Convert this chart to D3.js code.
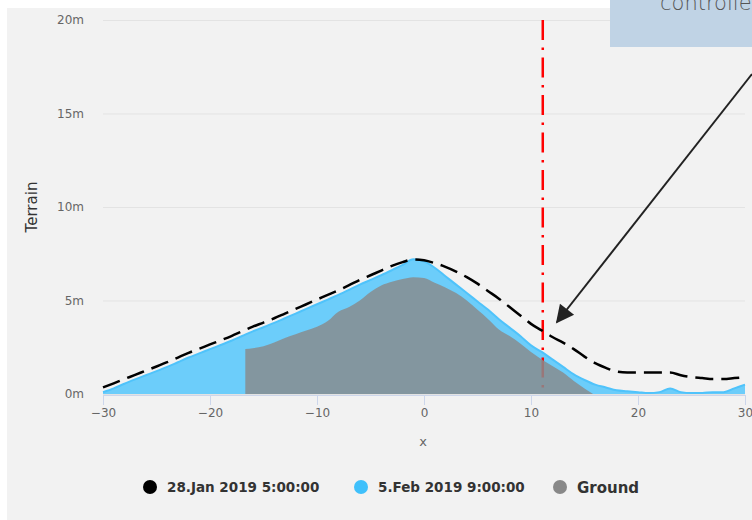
<!DOCTYPE html>
<html>
<head>
<meta charset="utf-8">
<script src="https://cdn.jsdelivr.net/npm/d3@7"></script>
<style>
  html, body { margin: 0; padding: 0; background: #fff; }
  svg { display: block; }
  text { font-family: "DejaVu Sans", sans-serif; }
</style>
</head>
<body>
<div id="chart"></div>
<script>
// terrain profiles (x in m, height in m)
var xs = [-30,-29,-28,-27,-26,-25,-24,-23,-22,-21,-20,-19,-18,-17,-16,-15,-14,-13,-12,-11,
  -10,-9,-8,-7,-6,-5,-4,-3,-2,-1,0,1,2,3,4,5,6,7,8,9,
  10,11,12,13,14,15,16,17,18,19,20,21,22,23,24,25,26,27,28,29,30];

var jan28 = [0.35,0.57,0.8,1.02,1.25,1.47,1.7,1.95,2.2,2.42,2.65,2.87,3.1,3.35,3.6,3.82,4.05,4.3,4.55,4.8,
  5.05,5.3,5.55,5.82,6.1,6.35,6.6,6.85,7.05,7.2,7.15,7.0,6.8,6.55,6.25,5.9,5.5,5.1,4.65,4.2,
  3.75,3.4,3.05,2.75,2.4,2.0,1.65,1.4,1.2,1.15,1.15,1.15,1.15,1.15,1.0,0.9,0.85,0.8,0.8,0.85,0.9];

var feb5 = [0.1,0.3,0.55,0.78,1.0,1.22,1.45,1.7,1.95,2.17,2.4,2.62,2.85,3.1,3.35,3.57,3.8,4.05,4.3,4.55,
  4.8,5.05,5.3,5.57,5.85,6.1,6.35,6.62,6.9,7.2,7.1,6.75,6.3,5.85,5.4,4.95,4.5,4.0,3.55,3.1,
  2.6,2.25,1.85,1.45,1.05,0.75,0.5,0.35,0.2,0.15,0.1,0.05,0.1,0.3,0.1,0.05,0.05,0.1,0.1,0.3,0.5];

var groundX = [-16.7,-16,-15,-14,-13,-12,-11,-10,-9,-8,-7,-6,-5,-4,-3,-2,-1,0,1,2,3,4,5,6,7,8,9,10,11,12,13,14,15,15.8];
var groundY = [2.4,2.45,2.55,2.75,3.0,3.2,3.4,3.6,3.9,4.4,4.65,5.0,5.45,5.8,6.0,6.15,6.25,6.2,5.95,5.7,5.4,5.0,4.5,4.0,3.45,3.1,2.7,2.25,1.85,1.5,1.15,0.7,0.3,0];

var xTicks = [-30,-20,-10,0,10,20,30];
var yTicks = [0,5,10,15,20];
var plotLineX = 11.1;
var seriesNames = ["28.Jan 2019 5:00:00", "5.Feb 2019 9:00:00", "Ground"];
var seriesColors = ["#000000", "#3fc0fb", "#888888"];

var W = 752, H = 520;
var svg = d3.select("#chart").append("svg")
  .attr("width", W)
  .attr("height", H);

svg.append("rect")
  .attr("x", 7).attr("y", 8)
  .attr("width", W - 7).attr("height", H - 8)
  .attr("fill", "#f2f2f2");

var x = d3.scaleLinear().domain([-30, 30]).range([103, 745]);
var y = d3.scaleLinear().domain([0, 20]).range([394, 20]);

// grid
svg.append("g").selectAll("line")
  .data(yTicks)
  .enter().append("line")
  .attr("x1", 103).attr("x2", 745)
  .attr("y1", function (d) { return y(d) + 0.5; })
  .attr("y2", function (d) { return y(d) + 0.5; })
  .attr("stroke", "#e3e3e3")
  .attr("stroke-width", 1);

// y labels
svg.append("g").selectAll("text")
  .data(yTicks)
  .enter().append("text")
  .attr("x", 84)
  .attr("y", function (d) { return y(d) + 4; })
  .attr("text-anchor", "end")
  .attr("font-size", 12)
  .attr("fill", "#666")
  .text(function (d) { return d + "m"; });

svg.append("text")
  .attr("transform", "translate(37,207) rotate(-90)")
  .attr("text-anchor", "middle")
  .attr("font-size", 15)
  .attr("fill", "#333")
  .text("Terrain");

// series
var jan = xs.map(function (d, i) { return [d, jan28[i]]; });
var feb = xs.map(function (d, i) { return [d, feb5[i]]; });
var gnd = groundX.map(function (d, i) { return [d, groundY[i]]; });

var area = d3.area()
  .x(function (d) { return x(d[0]); })
  .y0(y(0))
  .y1(function (d) { return y(d[1]); })
  .curve(d3.curveMonotoneX);
var line = d3.line()
  .x(function (d) { return x(d[0]); })
  .y(function (d) { return y(d[1]); })
  .curve(d3.curveMonotoneX);

svg.append("path")
  .attr("d", area(feb))
  .attr("fill", "#6ccdfa");
svg.append("path")
  .attr("d", line(feb))
  .attr("fill", "none")
  .attr("stroke", "#4fc3fb")
  .attr("stroke-width", 2);

// red plot line
svg.append("line")
  .attr("x1", x(plotLineX)).attr("x2", x(plotLineX))
  .attr("y1", y(20)).attr("y2", y(0))
  .attr("stroke", "#ff0000")
  .attr("stroke-width", 2.5)
  .attr("stroke-dasharray", "20,7.5,2.5,7.5");

svg.append("path")
  .attr("d", area(gnd))
  .attr("fill", "#878c8e")
  .attr("fill-opacity", 0.85);

svg.append("path")
  .attr("d", line(jan))
  .attr("fill", "none")
  .attr("stroke", "#000")
  .attr("stroke-width", 2.5)
  .attr("stroke-dasharray", "18,8");

// x axis
svg.append("line")
  .attr("x1", 103).attr("x2", 745)
  .attr("y1", 395.5).attr("y2", 395.5)
  .attr("stroke", "#ccd6eb");
var xt = svg.append("g").selectAll("g")
  .data(xTicks)
  .enter().append("g")
  .attr("transform", function (d) { return "translate(" + (Math.round(x(d)) + 0.5) + ",0)"; });
xt.append("line")
  .attr("y1", 395).attr("y2", 405)
  .attr("stroke", "#ccd6eb");
xt.append("text")
  .attr("y", 417)
  .attr("text-anchor", "middle")
  .attr("font-size", 12)
  .attr("fill", "#666")
  .text(function (d) { return d < 0 ? "\u2212" + (-d) : d; });

svg.append("text")
  .attr("x", 423).attr("y", 446)
  .attr("text-anchor", "middle")
  .attr("font-size", 13)
  .attr("fill", "#666")
  .text("x");

// legend
var legendX = [150, 361, 560];
var lg = svg.append("g").selectAll("g")
  .data(seriesNames)
  .enter().append("g")
  .attr("transform", function (d, i) { return "translate(" + legendX[i] + ",487)"; });
lg.append("circle")
  .attr("r", 7)
  .attr("fill", function (d, i) { return seriesColors[i]; });
lg.append("text")
  .attr("x", 17)
  .attr("y", function (d, i) { return i == 2 ? 6 : 5; })
  .attr("font-family", function (d, i) { return i == 2 ? "'Open Sans', sans-serif" : "'DejaVu Sans Condensed', 'DejaVu Sans', sans-serif"; })
  .attr("font-weight", function (d, i) { return i == 2 ? 600 : "bold"; })
  .attr("font-size", function (d, i) { return i == 2 ? 15 : 13.5; })
  .attr("fill", "#333")
  .text(function (d) { return d; });

// annotation
svg.append("rect")
  .attr("x", 610).attr("y", 0)
  .attr("width", 142).attr("height", 47)
  .attr("fill", "#c0d3e5");
svg.append("text")
  .attr("x", 660).attr("y", 10)
  .attr("font-family", "'Open Sans', sans-serif")
  .attr("font-weight", 300)
  .attr("font-size", 21)
  .attr("fill", "#555")
  .text("controlled");

svg.append("defs").append("marker")
  .attr("id", "arrow")
  .attr("viewBox", "0 0 10 10")
  .attr("refX", 9).attr("refY", 5)
  .attr("markerWidth", 22).attr("markerHeight", 18)
  .attr("markerUnits", "userSpaceOnUse")
  .attr("orient", "auto")
  .append("path")
  .attr("d", "M0,0 L10,5 L0,10 z")
  .attr("fill", "#222");

svg.append("line")
  .attr("x1", 752).attr("y1", 74)
  .attr("x2", 557).attr("y2", 322)
  .attr("stroke", "#222")
  .attr("stroke-width", 2)
  .attr("marker-end", "url(#arrow)");
</script>
</body>
</html>
